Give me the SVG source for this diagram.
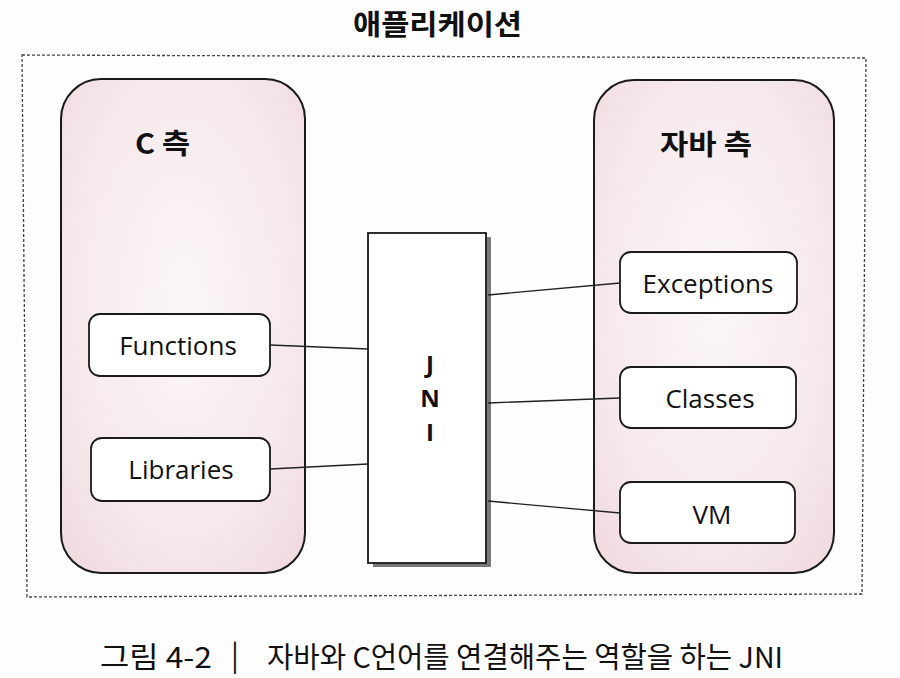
<svg xmlns="http://www.w3.org/2000/svg" width="900" height="678" viewBox="0 0 900 678">
<defs>
<radialGradient id="pink" cx="0.5" cy="0.45" r="0.75">
<stop offset="0" stop-color="#fbf6f7"/>
<stop offset="0.6" stop-color="#f6e9ec"/>
<stop offset="1" stop-color="#efd8dd"/>
</radialGradient>
<style>
.pill{fill:url(#pink);stroke:#1a1a1a;stroke-width:2}
.box{fill:#ffffff;stroke:#1a1a1a;stroke-width:1.8}
.lbl{font-family:"Open Sans","Noto Sans","Liberation Sans",sans-serif;font-size:26px;fill:#111;text-anchor:middle}
.hd{font-family:"Noto Sans CJK KR","Noto Sans",sans-serif;font-weight:bold;font-size:28px;fill:#111}
.jni{font-family:"Open Sans","Noto Sans",sans-serif;font-weight:bold;font-size:24px;fill:#111;text-anchor:middle}
.conn{stroke:#222;stroke-width:1.3;fill:none}
.cap{font-family:"Noto Sans CJK KR","Noto Sans",sans-serif;font-size:29px;fill:#111}
</style>
</defs>
<rect width="900" height="678" fill="#fdfdfd"/>
<g id="title"><text class="hd" x="353" y="35" textLength="169" lengthAdjust="spacingAndGlyphs">애플리케이션</text></g>
<g id="application"><path d="M22,55 L866,58 L862,594 L27,597 Z" fill="none" stroke="#444" stroke-width="1.3" stroke-dasharray="3 2"/></g>
<g id="c-side">
<rect class="pill" x="61" y="79" width="244" height="494" rx="40"/>
<text class="hd" x="135" y="154" textLength="55" lengthAdjust="spacingAndGlyphs">C 측</text>
</g>
<g id="java-side">
<rect class="pill" x="594" y="80" width="240" height="493" rx="40"/>
<text class="hd" x="660" y="155" textLength="92" lengthAdjust="spacingAndGlyphs">자바 측</text>
</g>
<g id="functions"><rect class="box" x="89" y="314" width="181" height="62" rx="11"/><text class="lbl" x="178" y="355">Functions</text></g>
<g id="libraries"><rect class="box" x="91" y="438" width="179" height="63" rx="11"/><text class="lbl" x="181" y="479">Libraries</text></g>
<g id="exceptions"><rect class="box" x="620" y="252" width="177" height="61" rx="11"/><text class="lbl" x="708" y="293">Exceptions</text></g>
<g id="classes"><rect class="box" x="620" y="367" width="176" height="61" rx="11"/><text class="lbl" x="710" y="408">Classes</text></g>
<g id="vm"><rect class="box" x="620" y="482" width="175" height="61" rx="11"/><text class="lbl" x="712" y="524">VM</text></g>
<g id="jni">
<rect x="373" y="237" width="118" height="330" fill="#7a7a7a"/>
<rect class="box" x="368" y="233" width="118" height="330"/>
<text class="jni" x="430" y="373">J</text>
<text class="jni" x="430" y="407">N</text>
<text class="jni" x="430" y="441">I</text>
</g>
<g id="connectors">
<line class="conn" x1="270" y1="345" x2="368" y2="349"/>
<line class="conn" x1="270" y1="469" x2="368" y2="464"/>
<line class="conn" x1="488" y1="295" x2="620" y2="283"/>
<line class="conn" x1="488" y1="403" x2="620" y2="398"/>
<line class="conn" x1="488" y1="501" x2="620" y2="513"/>
</g>
<g id="caption">
<text class="cap" x="100" y="668" textLength="112" lengthAdjust="spacingAndGlyphs">그림 4-2</text>
<text class="cap" x="231" y="666">|</text>
<text class="cap" x="267" y="668" textLength="516" lengthAdjust="spacingAndGlyphs">자바와 C언어를 연결해주는 역할을 하는 JNI</text>
</g>
</svg>
